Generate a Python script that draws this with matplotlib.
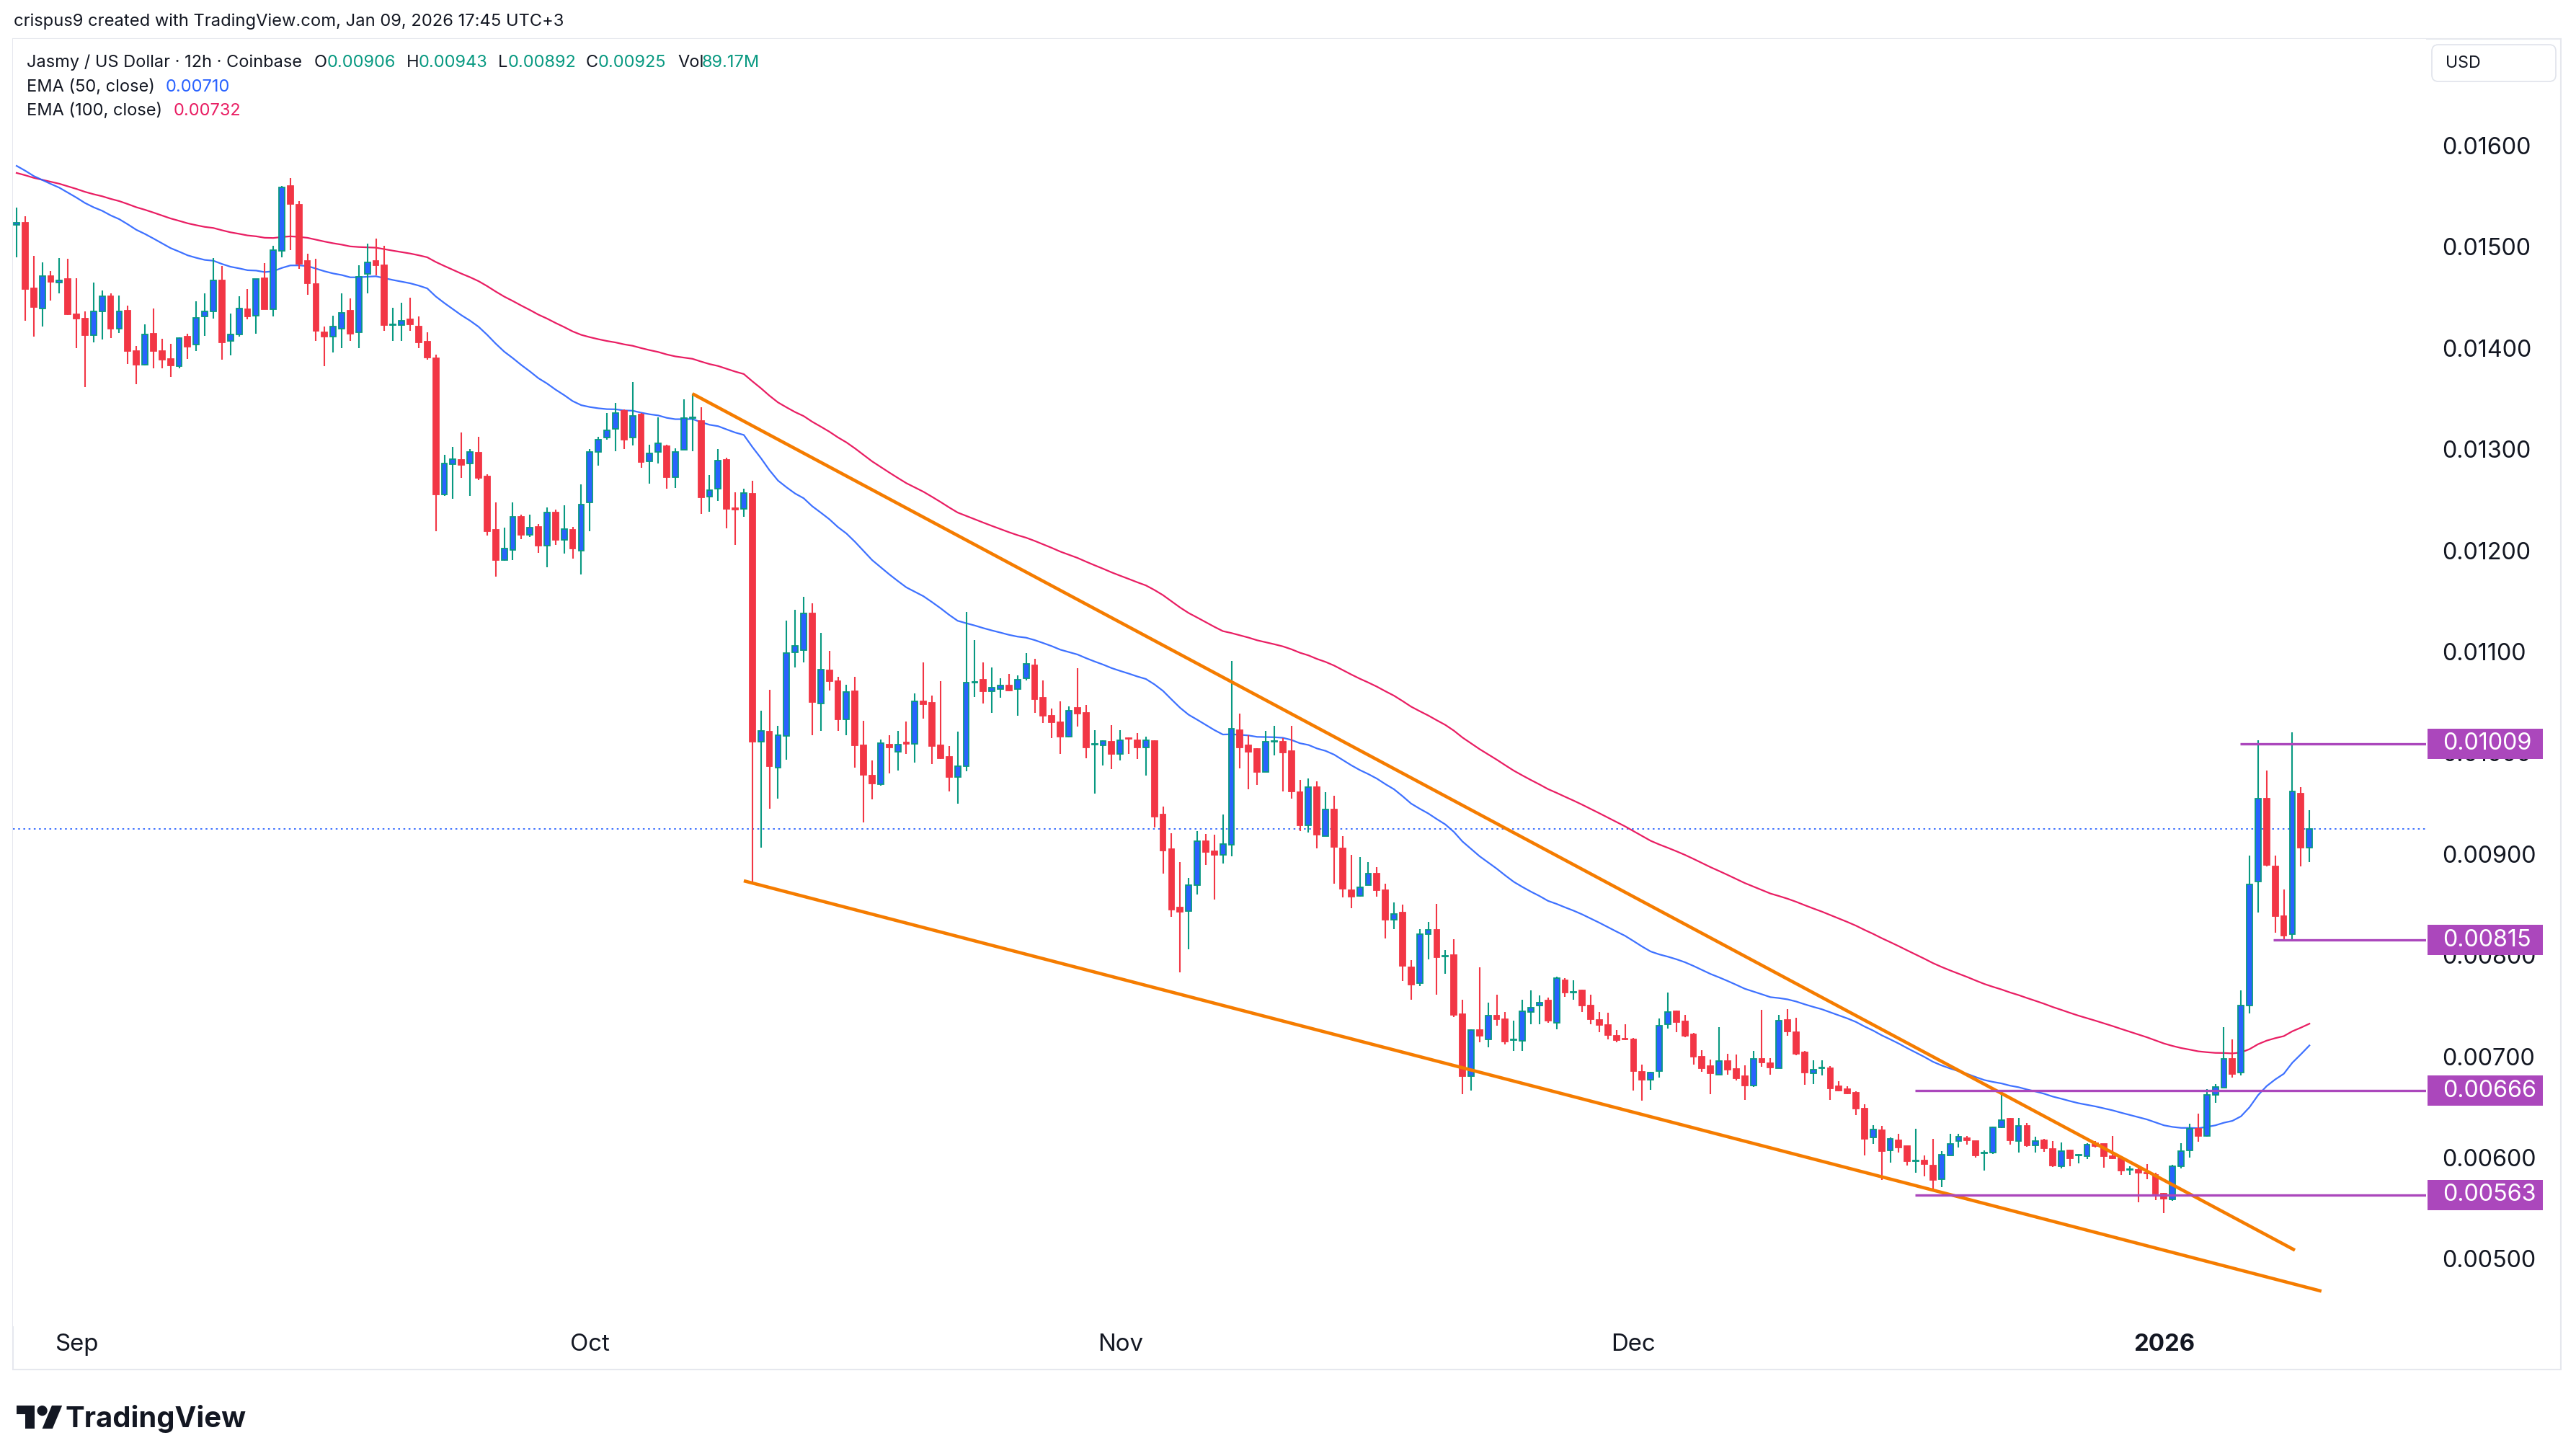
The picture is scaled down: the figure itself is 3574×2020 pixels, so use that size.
import numpy as np
import matplotlib
matplotlib.use("Agg")
import matplotlib.pyplot as plt
import matplotlib.transforms as mtransforms
from matplotlib.patches import Rectangle, FancyBboxPatch, Polygon, Circle

# ---------------------------------------------------------------- data
# 12h candles of JASMY/USD (Coinbase), first candle 2025-08-28 12:00
opens = [
    0.015220, 0.015238, 0.014590, 0.014393, 0.014708, 0.014650, 0.014680, 0.014331, 0.014288, 0.014127,
    0.014359, 0.014509, 0.014191, 0.014369, 0.013972, 0.013837, 0.014139, 0.013968, 0.013889, 0.013818,
    0.014115, 0.014032, 0.014309, 0.014359, 0.014666, 0.014067, 0.014131, 0.014381, 0.014317, 0.014689,
    0.014383, 0.014958, 0.015599, 0.015416, 0.014858, 0.014630, 0.014158, 0.014115, 0.014191, 0.014369,
    0.014158, 0.014732, 0.014858, 0.014815, 0.014225, 0.014229, 0.014281, 0.014210, 0.014063, 0.013897,
    0.012555, 0.012852, 0.012893, 0.012857, 0.012964, 0.012733, 0.012204, 0.011907, 0.012007, 0.012334,
    0.012157, 0.012233, 0.012045, 0.012377, 0.012104, 0.012204, 0.011997, 0.012472, 0.012976, 0.013114,
    0.013202, 0.013382, 0.013114, 0.013343, 0.012878, 0.012976, 0.013032, 0.012721, 0.012993, 0.013305,
    0.013277, 0.012532, 0.012613, 0.012895, 0.012415, 0.012411, 0.012558, 0.010112, 0.010210, 0.009850,
    0.010164, 0.010995, 0.011014, 0.011374, 0.010488, 0.010815, 0.010710, 0.010334, 0.010606, 0.010073,
    0.009772, 0.009690, 0.010084, 0.010008, 0.010100, 0.010086, 0.010506, 0.010494, 0.010074, 0.009960,
    0.009763, 0.009865, 0.010692, 0.010720, 0.010606, 0.010632, 0.010668, 0.010632, 0.010737, 0.010863,
    0.010542, 0.010369, 0.010305, 0.010162, 0.010443, 0.010393, 0.010080, 0.010074, 0.010108, 0.009991,
    0.010146, 0.010122, 0.010055, 0.010115, 0.009391, 0.009047, 0.008471, 0.008436, 0.008689, 0.009125,
    0.009029, 0.008988, 0.009090, 0.010221, 0.010075, 0.010035, 0.009814, 0.010110, 0.010113, 0.010017,
    0.009613, 0.009285, 0.009663, 0.009177, 0.009439, 0.009052, 0.008645, 0.008587, 0.008695, 0.008805,
    0.008639, 0.008349, 0.008419, 0.007881, 0.007724, 0.008209, 0.008253, 0.007985, 0.008000, 0.007416,
    0.006808, 0.007258, 0.007166, 0.007403, 0.007365, 0.007158, 0.007152, 0.007439, 0.007503, 0.007555,
    0.007330, 0.007752, 0.007631, 0.007650, 0.007503, 0.007360, 0.007313, 0.007206, 0.007172, 0.007170,
    0.006850, 0.006767, 0.006855, 0.007318, 0.007448, 0.007349, 0.007218, 0.007000, 0.006902, 0.006819,
    0.006957, 0.006878, 0.006803, 0.006715, 0.006976, 0.006933, 0.006881, 0.007361, 0.007242, 0.007040,
    0.006831, 0.006886, 0.006881, 0.006703, 0.006679, 0.006641, 0.006482, 0.006197, 0.006269, 0.006072,
    0.006169, 0.006114, 0.005967, 0.005972, 0.005920, 0.005787, 0.006024, 0.006162, 0.006193, 0.006162,
    0.006043, 0.006048, 0.006300, 0.006383, 0.006167, 0.006311, 0.006122, 0.006169, 0.006084, 0.005912,
    0.006071, 0.006020, 0.006017, 0.006144, 0.006134, 0.006017, 0.005991, 0.005880, 0.005880, 0.005851,
    0.005832, 0.005641, 0.005584, 0.005918, 0.006071, 0.006284, 0.006214, 0.006621, 0.006691, 0.006977,
    0.006840, 0.007502, 0.008726, 0.009546, 0.008879, 0.008386, 0.008211, 0.009600, 0.009060,
]
highs = [
    0.015385, 0.015302, 0.014910, 0.014846, 0.014761, 0.014886, 0.014879, 0.014689, 0.014359, 0.014644,
    0.014566, 0.014542, 0.014518, 0.014419, 0.014020, 0.014234, 0.014388, 0.014091, 0.014039, 0.014103,
    0.014139, 0.014459, 0.014537, 0.014886, 0.014808, 0.014340, 0.014511, 0.014582, 0.014680, 0.014839,
    0.015012, 0.015599, 0.015677, 0.015449, 0.014934, 0.014879, 0.014215, 0.014317, 0.014538, 0.014490,
    0.014815, 0.015029, 0.015081, 0.015012, 0.014400, 0.014447, 0.014495, 0.014310, 0.014158, 0.013937,
    0.012945, 0.013023, 0.013165, 0.013004, 0.013123, 0.012750, 0.012472, 0.012225, 0.012472, 0.012354,
    0.012354, 0.012258, 0.012422, 0.012401, 0.012446, 0.012232, 0.012650, 0.013004, 0.013124, 0.013359,
    0.013457, 0.013392, 0.013663, 0.013359, 0.013042, 0.013316, 0.013042, 0.013009, 0.013490, 0.013549,
    0.013415, 0.012747, 0.012999, 0.012917, 0.012574, 0.012607, 0.012689, 0.010416, 0.010622, 0.010269,
    0.011305, 0.011413, 0.011538, 0.011479, 0.011184, 0.011005, 0.010753, 0.010671, 0.010753, 0.010318,
    0.009925, 0.010131, 0.010174, 0.010217, 0.010309, 0.010585, 0.010893, 0.010566, 0.010708, 0.010067,
    0.010210, 0.011390, 0.011112, 0.010893, 0.010844, 0.010737, 0.010779, 0.010763, 0.010986, 0.010929,
    0.010715, 0.010435, 0.010506, 0.010459, 0.010834, 0.010471, 0.010222, 0.010127, 0.010276, 0.010222,
    0.010155, 0.010198, 0.010162, 0.010122, 0.009467, 0.009206, 0.008921, 0.008767, 0.009227, 0.009198,
    0.009192, 0.009392, 0.010907, 0.010389, 0.010171, 0.010046, 0.010215, 0.010267, 0.010142, 0.010267,
    0.009735, 0.009744, 0.009721, 0.009613, 0.009576, 0.009177, 0.008988, 0.008971, 0.008921, 0.008872,
    0.008703, 0.008523, 0.008500, 0.007953, 0.008259, 0.008326, 0.008509, 0.008049, 0.008157, 0.007561,
    0.007265, 0.007878, 0.007531, 0.007610, 0.007439, 0.007353, 0.007557, 0.007652, 0.007603, 0.007579,
    0.007788, 0.007776, 0.007752, 0.007657, 0.007610, 0.007439, 0.007432, 0.007258, 0.007318, 0.007182,
    0.006917, 0.006850, 0.007372, 0.007633, 0.007455, 0.007408, 0.007230, 0.007064, 0.006969, 0.007289,
    0.007028, 0.007016, 0.006909, 0.007052, 0.007460, 0.006981, 0.007408, 0.007468, 0.007380, 0.007052,
    0.006964, 0.006964, 0.006905, 0.006755, 0.006708, 0.006653, 0.006530, 0.006321, 0.006316, 0.006198,
    0.006233, 0.006114, 0.006288, 0.006019, 0.006186, 0.006067, 0.006233, 0.006238, 0.006217, 0.006167,
    0.006072, 0.006309, 0.006665, 0.006392, 0.006392, 0.006340, 0.006209, 0.006186, 0.006162, 0.006150,
    0.006080, 0.006033, 0.006141, 0.006166, 0.006134, 0.006214, 0.005997, 0.005918, 0.005928, 0.005934,
    0.005848, 0.005648, 0.005928, 0.006144, 0.006335, 0.006436, 0.006675, 0.006723, 0.007289, 0.007168,
    0.007651, 0.008987, 0.010125, 0.009823, 0.008987, 0.008653, 0.010205, 0.009664, 0.009430,
]
lows = [
    0.014893, 0.014269, 0.014115, 0.014215, 0.014471, 0.014542, 0.014323, 0.014001, 0.013616, 0.014053,
    0.014086, 0.014096, 0.014150, 0.013842, 0.013645, 0.013830, 0.013801, 0.013801, 0.013716, 0.013801,
    0.013894, 0.013968, 0.014122, 0.014293, 0.013882, 0.013930, 0.014115, 0.014286, 0.014139, 0.014383,
    0.014312, 0.014898, 0.014969, 0.014780, 0.014523, 0.014068, 0.013818, 0.013954, 0.014001, 0.014072,
    0.013996, 0.014542, 0.014720, 0.014167, 0.014072, 0.014072, 0.014170, 0.013996, 0.013882, 0.012187,
    0.012536, 0.012513, 0.012714, 0.012536, 0.012698, 0.012149, 0.011741, 0.011900, 0.011902, 0.012109,
    0.012133, 0.011978, 0.011831, 0.012057, 0.011967, 0.011919, 0.011760, 0.012187, 0.012836, 0.013097,
    0.012983, 0.012999, 0.013038, 0.012813, 0.012656, 0.012859, 0.012613, 0.012617, 0.012993, 0.012983,
    0.012362, 0.012385, 0.012486, 0.012221, 0.012051, 0.012335, 0.008725, 0.009065, 0.009445, 0.009549,
    0.009935, 0.010841, 0.010890, 0.010171, 0.010220, 0.010612, 0.010220, 0.010171, 0.009850, 0.009314,
    0.009543, 0.009674, 0.009799, 0.009828, 0.009991, 0.009901, 0.010340, 0.009889, 0.009940, 0.009621,
    0.009497, 0.009818, 0.010549, 0.010487, 0.010395, 0.010547, 0.010609, 0.010369, 0.010713, 0.010393,
    0.010298, 0.010143, 0.009991, 0.010150, 0.010262, 0.009944, 0.009600, 0.009877, 0.009842, 0.009925,
    0.009991, 0.009941, 0.009778, 0.009260, 0.008809, 0.008377, 0.007831, 0.008058, 0.008602, 0.008892,
    0.008552, 0.008907, 0.008974, 0.009843, 0.009640, 0.009683, 0.009814, 0.009977, 0.009619, 0.009546,
    0.009227, 0.009212, 0.009052, 0.009177, 0.008703, 0.008573, 0.008465, 0.008581, 0.008695, 0.008581,
    0.008166, 0.008259, 0.007744, 0.007561, 0.007695, 0.007962, 0.007613, 0.007817, 0.007389, 0.006625,
    0.006660, 0.007142, 0.007087, 0.007306, 0.007118, 0.007057, 0.007057, 0.007320, 0.007320, 0.007332,
    0.007265, 0.007586, 0.007557, 0.007439, 0.007320, 0.007242, 0.007171, 0.007142, 0.007160, 0.006660,
    0.006560, 0.006672, 0.006791, 0.007273, 0.007237, 0.007187, 0.006917, 0.006845, 0.006625, 0.006819,
    0.006822, 0.006760, 0.006570, 0.006696, 0.006898, 0.006822, 0.006881, 0.007206, 0.007009, 0.006720,
    0.006724, 0.006815, 0.006573, 0.006656, 0.006625, 0.006418, 0.006019, 0.006138, 0.005777, 0.005953,
    0.006050, 0.005925, 0.005849, 0.005818, 0.005692, 0.005711, 0.006024, 0.006103, 0.006126, 0.006003,
    0.005870, 0.006039, 0.006292, 0.006126, 0.006048, 0.006110, 0.006050, 0.006055, 0.005906, 0.005896,
    0.005912, 0.005944, 0.005985, 0.006103, 0.005902, 0.005985, 0.005832, 0.005832, 0.005556, 0.005785,
    0.005578, 0.005451, 0.005572, 0.005896, 0.005998, 0.006157, 0.006207, 0.006538, 0.006691, 0.006793,
    0.006809, 0.007422, 0.008424, 0.008875, 0.008224, 0.008144, 0.008144, 0.008875, 0.008920,
]
closes = [
    0.015238, 0.014585, 0.014407, 0.014708, 0.014656, 0.014670, 0.014333, 0.014288, 0.014127, 0.014359,
    0.014509, 0.014191, 0.014359, 0.013972, 0.013837, 0.014131, 0.013968, 0.013885, 0.013825, 0.014096,
    0.014015, 0.014295, 0.014359, 0.014666, 0.014055, 0.014131, 0.014393, 0.014312, 0.014680, 0.014383,
    0.014965, 0.015587, 0.015425, 0.014830, 0.014642, 0.014167, 0.014115, 0.014210, 0.014345, 0.014139,
    0.014704, 0.014844, 0.014815, 0.014229, 0.014234, 0.014267, 0.014234, 0.014056, 0.013908, 0.012555,
    0.012857, 0.012904, 0.012845, 0.012971, 0.012719, 0.012192, 0.011907, 0.012021, 0.012330, 0.012157,
    0.012228, 0.012045, 0.012377, 0.012104, 0.012209, 0.012021, 0.012453, 0.012971, 0.013097, 0.013189,
    0.013359, 0.013097, 0.013326, 0.012875, 0.012960, 0.013058, 0.012721, 0.012973, 0.013310, 0.013315,
    0.012525, 0.012597, 0.012891, 0.012411, 0.012405, 0.012564, 0.010112, 0.010220, 0.009867, 0.010171,
    0.010988, 0.011060, 0.011374, 0.010504, 0.010825, 0.010710, 0.010334, 0.010602, 0.010073, 0.009785,
    0.009696, 0.010096, 0.010051, 0.010084, 0.010090, 0.010511, 0.010483, 0.010067, 0.009944, 0.009763,
    0.009865, 0.010692, 0.010701, 0.010606, 0.010642, 0.010668, 0.010618, 0.010720, 0.010879, 0.010530,
    0.010369, 0.010305, 0.010162, 0.010419, 0.010388, 0.010055, 0.010090, 0.010115, 0.009991, 0.010122,
    0.010136, 0.010055, 0.010122, 0.009372, 0.009035, 0.008453, 0.008427, 0.008689, 0.009125, 0.009017,
    0.008988, 0.009096, 0.010238, 0.010055, 0.010012, 0.009814, 0.010113, 0.010116, 0.010006, 0.009619,
    0.009285, 0.009663, 0.009189, 0.009439, 0.009073, 0.008654, 0.008581, 0.008674, 0.008805, 0.008645,
    0.008349, 0.008404, 0.007898, 0.007709, 0.008209, 0.008253, 0.007977, 0.007995, 0.007410, 0.006808,
    0.007258, 0.007201, 0.007403, 0.007365, 0.007147, 0.007165, 0.007448, 0.007484, 0.007534, 0.007356,
    0.007771, 0.007629, 0.007637, 0.007503, 0.007365, 0.007308, 0.007213, 0.007163, 0.007165, 0.006855,
    0.006767, 0.006838, 0.007306, 0.007436, 0.007337, 0.007206, 0.007000, 0.006886, 0.006831, 0.006957,
    0.006869, 0.006786, 0.006715, 0.006976, 0.006938, 0.006891, 0.007354, 0.007249, 0.007028, 0.006838,
    0.006867, 0.006893, 0.006684, 0.006665, 0.006637, 0.006487, 0.006186, 0.006281, 0.006067, 0.006186,
    0.006098, 0.005967, 0.005972, 0.005936, 0.005782, 0.006031, 0.006138, 0.006209, 0.006169, 0.006019,
    0.006048, 0.006297, 0.006368, 0.006169, 0.006316, 0.006119, 0.006162, 0.006091, 0.005920, 0.006064,
    0.005991, 0.006025, 0.006128, 0.006112, 0.006013, 0.005991, 0.005870, 0.005886, 0.005848, 0.005845,
    0.005641, 0.005594, 0.005918, 0.006061, 0.006284, 0.006214, 0.006618, 0.006700, 0.006977, 0.006824,
    0.007502, 0.008701, 0.009546, 0.008891, 0.008386, 0.008192, 0.009616, 0.009066, 0.009250,
]

# EMA values read at the first candle (the indicator continues from history)
ema50_start = 0.01580
ema100_start = 0.01573

month_ticks = [7, 67, 129, 189, 251]          # candle index of Sep 1, Oct 1, Nov 1, Dec 1, Jan 1
month_labels = ["Sep", "Oct", "Nov", "Dec", "2026"]
price_ticks = [0.005, 0.006, 0.007, 0.008, 0.009, 0.010, 0.011, 0.012, 0.013, 0.014, 0.015, 0.016]
price_labels = ["0.00500", "0.00600", "0.00700", "0.00800", "0.00900", "0.01000",
                "0.01100", "0.01200", "0.01300", "0.01400", "0.01500", "0.01600"]

level_values = [0.01009, 0.00815, 0.00666, 0.00563]
level_labels = ["0.01009", "0.00815", "0.00666", "0.00563"]
level_start = [259.9, 263.8, 221.9, 221.9]

upper_trend_x = [79.0, 266.3]
upper_trend_y = [0.013548, 0.005085]
lower_trend_x = [85.0, 269.4]
lower_trend_y = [0.008735, 0.004680]

last_price = 0.00925

# ---------------------------------------------------------------- style
W, H, DPI = 3574, 2020, 100
FAM = ["Inter", "DejaVu Sans"]
plt.rcParams["font.family"] = FAM
TXT = "#131722"
UP_BODY, UP_EDGE, DOWN = "#2962FF", "#089981", "#F23645"
EMA50_C, EMA100_C = "#2962FF", "#E91E63"
ORANGE, PURPLE = "#F57C00", "#AB47BC"

fig = plt.figure(figsize=(W / DPI, H / DPI), dpi=DPI)
fig.patch.set_facecolor("white")
renderer = fig.canvas.get_renderer()

PX = mtransforms.Affine2D().scale(1.0 / W, 1.0 / H) + fig.transFigure  # pixel coords (y up)


def fy(y):
    return H - y


def fit_size(text, target_px, weight="normal"):
    t = fig.text(0, 0, text, fontsize=20, fontweight=weight)
    w = t.get_window_extent(renderer).width
    t.remove()
    return 20.0 * target_px / w


AX_L, AX_R, AX_T, AX_B = 18, 3366, 54, 1840
ax = fig.add_axes([AX_L / W, 1 - AX_B / H, (AX_R - AX_L) / W, (AX_B - AX_T) / H])
ax.set_facecolor("white")
PX_PER_CANDLE = 11.87
X0 = 23.0
ax.set_xlim((AX_L - X0) / PX_PER_CANDLE, (AX_R - X0) / PX_PER_CANDLE)
PPX = 140400.0   # pixels per 1.0 price
ax.set_ylim(0.016 - (AX_B - 202) / PPX, 0.016 + (202 - AX_T) / PPX)
for s in ax.spines.values():
    s.set_visible(False)

# ---------------------------------------------------------------- candles
o = np.array(opens); h = np.array(highs); l = np.array(lows); c = np.array(closes)
x = np.arange(len(c))
up = c >= o
ax.vlines(x, l, h, colors=np.where(up, UP_EDGE, DOWN), linewidth=1.5, zorder=3)
ax.bar(x, np.abs(c - o), bottom=np.minimum(o, c), width=0.66,
       color=np.where(up, UP_BODY, DOWN), edgecolor=np.where(up, UP_EDGE, DOWN),
       linewidth=1.3, zorder=4)


def ema(vals, period, start):
    a = 2.0 / (period + 1)
    out = [start]
    for v in vals[1:]:
        out.append(a * v + (1 - a) * out[-1])
    return np.array(out)


ema50 = ema(c, 50, ema50_start)
ema100 = ema(c, 100, ema100_start)
ax.plot(x, ema100, color=EMA100_C, lw=1.6, zorder=2)
ax.plot(x, ema50, color=EMA50_C, lw=1.6, zorder=2, alpha=0.9)

# current price dotted line
ax.axhline(last_price, color="#2962FF", lw=1.3, ls=(0, (1.4, 2.6)), zorder=1)

# trend lines
ax.plot(upper_trend_x, upper_trend_y, color=ORANGE, lw=3.3, zorder=6, solid_capstyle="butt")
ax.plot(lower_trend_x, lower_trend_y, color=ORANGE, lw=3.3, zorder=6, solid_capstyle="butt")

# horizontal levels
xr = ax.get_xlim()[1]
for v, xs in zip(level_values, level_start):
    ax.hlines(v, xs, xr, color=PURPLE, lw=2.4, zorder=6)

# ---------------------------------------------------------------- axes ticks
axis_fs = fit_size("0.01600", 124)
ax.yaxis.tick_right()
ax.set_yticks(price_ticks)
ax.set_yticklabels(price_labels)
ax.tick_params(axis="y", length=0, pad=(3388 - AX_R) * 72 / DPI, labelsize=axis_fs, labelcolor=TXT)
for t in ax.get_yticklabels():
    t.set_horizontalalignment("left")

ax.set_xticks(month_ticks)
ax.set_xticklabels(month_labels)
ax.tick_params(axis="x", length=0, pad=10 * 72 / DPI, labelsize=axis_fs * 1.02, labelcolor=TXT)
ax.get_xticklabels()[-1].set_fontweight("bold")

# price level tags on the price scale
bt = mtransforms.blended_transform_factory(PX, ax.transData)
tag_h = 42 / PPX
for v, lab in zip(level_values, level_labels):
    r = FancyBboxPatch((3368, v - tag_h / 2), 3528 - 3368, tag_h, transform=bt,
                       boxstyle="square,pad=0",
                       facecolor=PURPLE, edgecolor="none", zorder=10, clip_on=False)
    fig.add_artist(r)
    fig.text(0, 0, lab, transform=bt, fontsize=axis_fs, color="white",
             va="center", ha="left", zorder=11).set_position((3389, v))

# ---------------------------------------------------------------- frame and headers
fig.add_artist(Rectangle((AX_L, fy(1900)), 3553 - AX_L, 1900 - AX_T, transform=PX,
                         facecolor="none", edgecolor="#E6E8EE", lw=1.5, zorder=0))
fig.add_artist(FancyBboxPatch((3374, fy(113)), 3546 - 3374, 51, transform=PX,
                              boxstyle="round,pad=0,rounding_size=9",
                              facecolor="white", edgecolor="#E0E3EB", lw=1.2, zorder=5))
usd_fs = fit_size("USD", 49)
fig.text(3393 / W, 1 - 88 / H, "USD", fontsize=usd_fs, color=TXT, va="center", ha="left",
         zorder=7)

hdr = "crispus9 created with TradingView.com, Jan 09, 2026 17:45 UTC+3"
fig.text(19 / W, 1 - 30 / H, hdr, fontsize=fit_size(hdr, 763), color=TXT, va="center", ha="left")

leg_fs = fit_size("Jasmy / US Dollar · 12h · Coinbase", 382)
GREEN = "#089981"
segments = [
    (37, "Jasmy / US Dollar · 12h · Coinbase", TXT),
    (436, "O", TXT), (454, "0.00906", GREEN),
    (564, "H", TXT), (581, "0.00943", GREEN),
    (691, "L", TXT), (705, "0.00892", GREEN),
    (813, "C", TXT), (830, "0.00925", GREEN),
    (940, "Vol", TXT), (974, "89.17M", GREEN),
]
for xx, s, col in segments:
    fig.text(xx / W, 1 - 87 / H, s, fontsize=leg_fs, color=col, va="center", ha="left")
fig.text(37 / W, 1 - 121 / H, "EMA (50, close)", fontsize=leg_fs, color=TXT, va="center", ha="left")
fig.text(230 / W, 1 - 121 / H, "0.00710", fontsize=leg_fs, color=EMA50_C, va="center", ha="left")
fig.text(37 / W, 1 - 154 / H, "EMA (100, close)", fontsize=leg_fs, color=TXT, va="center", ha="left")
fig.text(241 / W, 1 - 154 / H, "0.00732", fontsize=leg_fs, color=EMA100_C, va="center", ha="left")

# ---------------------------------------------------------------- TradingView logo
sc = 1.78
lx, ly = 23, 1950


def lp(sx, sy):
    return (lx + sx * sc, fy(ly + (sy - 4) * sc))


fig.add_artist(Polygon([lp(0, 4), lp(14, 4), lp(14, 22), lp(7, 22), lp(7, 11), lp(0, 11)],
                       closed=True, transform=PX, facecolor=TXT, edgecolor="none"))
cx, cy = lp(20, 8)
fig.add_artist(Circle((cx, cy), 4 * sc, transform=PX, facecolor=TXT, edgecolor="none"))
fig.add_artist(Polygon([lp(20, 22), lp(27.5, 4), lp(35.5, 4), lp(28, 22)],
                       closed=True, transform=PX, facecolor=TXT, edgecolor="none"))
fig.text(91 / W, 1 - 1968 / H, "TradingView", fontsize=fit_size("TradingView", 251, "bold"),
         fontweight="bold", color=TXT, va="center", ha="left")

fig.savefig("out.png", dpi=DPI, facecolor="white")
